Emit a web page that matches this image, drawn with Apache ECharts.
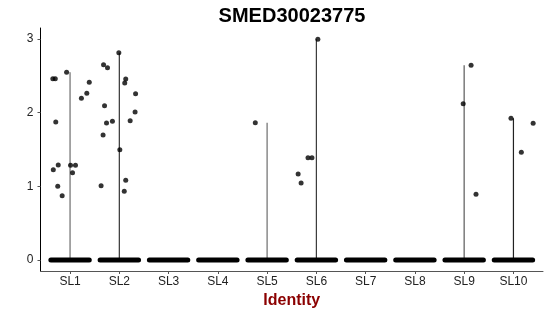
<!DOCTYPE html>
<html>
<head>
<meta charset="utf-8">
<script src="https://cdn.jsdelivr.net/npm/echarts@6/dist/echarts.min.js"></script>
<style>html,body{margin:0;padding:0;background:#fff;}#c{width:550px;height:316px;}</style>
</head>
<body>
<div id="c"></div>
<script>
// ---- data ----
const categories = ['SL1','SL2','SL3','SL4','SL5','SL6','SL7','SL8','SL9','SL10'];
const yTicks = [0, 1, 2, 3];
// non-zero expression values per identity, with their horizontal jitter (category units)
const sl1Values = [2.461, 2.461, 2.548, 2.412, 2.263, 2.195, 1.873, 1.290, 1.226, 1.285, 1.285, 1.185, 1.000, 0.873];
const sl1Jitter = [-0.35, -0.30, -0.07, 0.39, 0.34, 0.23, -0.29, -0.24, -0.34, 0.01, 0.11, 0.05, -0.25, -0.16];
const sl2Values = [2.814, 2.651, 2.610, 2.457, 2.403, 2.257, 2.094, 2.009, 1.860, 1.883, 1.891, 1.697, 1.497, 1.009, 1.082, 0.933];
const sl2Jitter = [-0.01, -0.32, -0.24, 0.13, 0.11, 0.33, -0.30, 0.32, -0.26, -0.14, 0.22, -0.33, 0.01, -0.37, 0.13, 0.10];
const sl3Values = [], sl3Jitter = [];
const sl4Values = [], sl4Jitter = [];
const sl5Values = [1.864];
const sl5Jitter = [-0.24];
const sl6Values = [2.996, 1.389, 1.389, 1.167, 1.045];
const sl6Jitter = [0.03, -0.17, -0.09, -0.37, -0.31];
const sl7Values = [], sl7Jitter = [];
const sl8Values = [], sl8Jitter = [];
const sl9Values = [2.643, 2.122, 0.892];
const sl9Jitter = [0.14, -0.02, 0.24];
const sl10Values = [1.923, 1.856, 1.462];
const sl10Jitter = [-0.05, 0.40, 0.16];
// every identity also has many cells at 0, jittered across this half-width
const zeroJitterHalfWidth = 0.39;

const allValues = [sl1Values, sl2Values, sl3Values, sl4Values, sl5Values, sl6Values, sl7Values, sl8Values, sl9Values, sl10Values];
const allJitter = [sl1Jitter, sl2Jitter, sl3Jitter, sl4Jitter, sl5Jitter, sl6Jitter, sl7Jitter, sl8Jitter, sl9Jitter, sl10Jitter];

// ---- styling ----
const violinColors = ['#8a8a8a','#333333','#8a8a8a','#8a8a8a','#8a8a8a','#3a3a3a','#8a8a8a','#8a8a8a','#7a7a7a','#222222'];
const violinWidths = [1.5, 1.2, 1.5, 1.5, 1.5, 1.2, 1.5, 1.5, 1.5, 1.2];

const series = [];
// violins (degenerate: a thin spike from 0 to the max value)
categories.forEach((c, i) => {
  const vals = allValues[i];
  if (!vals.length) return;
  const top = Math.max.apply(null, vals);
  series.push({
    type: 'line', silent: true, symbol: 'none', animation: false, z: 1,
    lineStyle: { color: violinColors[i], width: violinWidths[i] },
    data: [[i + 1, 0], [i + 1, top]]
  });
});
// zero band of jittered points
categories.forEach((c, i) => {
  series.push({
    type: 'line', silent: true, symbol: 'none', animation: false, z: 3,
    lineStyle: { color: '#000', width: 5, cap: 'round' },
    data: [[i + 1 - zeroJitterHalfWidth, 0], [i + 1 + zeroJitterHalfWidth, 0]]
  });
});
// non-zero jittered points
const pts = [];
categories.forEach((c, i) => {
  allValues[i].forEach((v, k) => pts.push([i + 1 + allJitter[i][k], v]));
});
series.push({
  type: 'scatter', symbol: 'circle', symbolSize: 5, animation: false, z: 4,
  itemStyle: { color: '#000' },
  data: pts
});

const chart = echarts.init(document.getElementById('c'), null, { renderer: 'canvas' });
chart.setOption({
  animation: false,
  backgroundColor: '#fff',
  title: {
    text: 'SMED30023775',
    left: 292, top: 6, textAlign: 'center', padding: 0,
    textStyle: { fontFamily: 'Liberation Sans, Arial, sans-serif', fontSize: 20, fontWeight: 'bold', color: '#000' }
  },
  grid: { left: 40.5, right: 7, top: 28, bottom: 45, containLabel: false },
  xAxis: {
    type: 'value', min: 0.4, max: 10.6,
    name: 'Identity', nameLocation: 'middle', nameGap: 21,
    nameTextStyle: { fontFamily: 'Liberation Sans, Arial, sans-serif', fontSize: 16, fontWeight: 'bold', color: '#8b0000' },
    splitLine: { show: false },
    axisLine: { show: true, onZero: false, lineStyle: { color: '#555', width: 1 } },
    axisTick: { show: true, length: 3, customValues: categories.map((c, i) => i + 1), lineStyle: { color: '#555' } },
    axisLabel: {
      customValues: categories.map((c, i) => i + 1), margin: 5,
      formatter: v => categories[Math.round(v) - 1] || '',
      fontFamily: 'Liberation Sans, Arial, sans-serif', fontSize: 12, color: '#222'
    }
  },
  yAxis: {
    type: 'value', min: -0.15, max: 3.15,
    splitLine: { show: false },
    axisLine: { show: true, onZero: false, lineStyle: { color: '#000', width: 1 } },
    axisTick: { show: true, length: 3, customValues: yTicks, lineStyle: { color: '#555' } },
    axisLabel: {
      customValues: yTicks, margin: 7,
      fontFamily: 'Liberation Sans, Arial, sans-serif', fontSize: 12, color: '#222'
    }
  },
  series: series
});
</script>
</body>
</html>
